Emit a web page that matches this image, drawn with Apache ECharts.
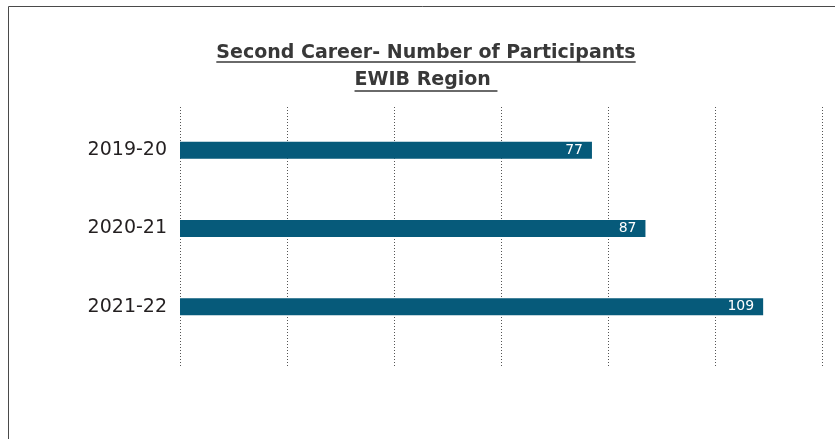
<!DOCTYPE html>
<html>
<head>
<meta charset="utf-8">
<script src="https://cdn.jsdelivr.net/npm/echarts@6/dist/echarts.min.js"></script>
<style>
html,body{margin:0;padding:0;background:#fff;}
#chart{width:835px;height:439px;}
</style>
</head>
<body>
<div id="chart"></div>
<script>
const categories = ['2019-20', '2020-21', '2021-22'];
const participants = [77, 87, 109];
const titleLines = ['Second Career- Number of Participants', 'EWIB Region '];
const axisMax = 120;
const axisInterval = 20;

const FONT = '"DejaVu Sans", sans-serif';
const titleSize = 19;
const titleWeight = 'bold';
function measure(text, size, weight) {
  const c = document.createElement('canvas').getContext('2d');
  c.font = weight + ' ' + size + 'px ' + FONT;
  return c.measureText(text).width;
}
const titleCx = 426;
const titleY = [53, 80];
const underlineY = [62, 91];
const graphics = [
  { type: 'rect', left: 6, top: 4, silent: true,
    shape: { width: 900, height: 500 },
    style: { fill: 'none', stroke: '#4a4a4a', lineWidth: 1 } }
];
titleLines.forEach((t, i) => {
  const w = measure(t, titleSize, titleWeight);
  graphics.push({ type: 'text', x: titleCx, y: titleY[i], silent: true,
    style: { text: t, font: titleWeight + ' ' + titleSize + 'px ' + FONT, fill: '#383838',
      textAlign: 'center', textVerticalAlign: 'middle' } });
  graphics.push({ type: 'line', silent: true,
    shape: { x1: titleCx - w / 2, y1: underlineY[i], x2: titleCx + w / 2, y2: underlineY[i] },
    style: { stroke: '#383838', lineWidth: 1.5 } });
});

const chart = echarts.init(document.getElementById('chart'), null, { renderer: 'canvas' });
const gridLeft = 180, gridWidth = 642;
chart.setOption({
  animation: false,
  backgroundColor: '#ffffff',
  graphic: graphics,
  grid: [
    { left: gridLeft, width: gridWidth, top: 107, height: 260 },
    { left: gridLeft, width: gridWidth, top: 111, height: 235 }
  ],
  xAxis: [
    { gridIndex: 0, type: 'value', min: 0, max: axisMax, interval: axisInterval,
      axisLine: { show: false }, axisTick: { show: false }, axisLabel: { show: false },
      splitLine: { show: true, lineStyle: { color: '#555', type: [1, 2], width: 1 } } },
    { gridIndex: 1, type: 'value', min: 0, max: axisMax, interval: axisInterval,
      axisLine: { show: false }, axisTick: { show: false }, axisLabel: { show: false },
      splitLine: { show: false } }
  ],
  yAxis: [
    { gridIndex: 0, type: 'value', show: false, min: 0, max: 1, splitLine: { show: false } },
    { gridIndex: 1, type: 'category', data: categories, inverse: true,
      axisLine: { show: false }, axisTick: { show: false }, splitLine: { show: false },
      axisLabel: { margin: 13, color: '#231f20', fontSize: 19, fontFamily: FONT } }
  ],
  series: [{
    type: 'bar',
    xAxisIndex: 1, yAxisIndex: 1,
    data: participants,
    barWidth: 17,
    itemStyle: { color: '#065a7a' },
    label: { show: true, position: 'insideRight', distance: 9, color: '#ffffff',
      fontSize: 14, fontFamily: FONT }
  }]
});
</script>
</body>
</html>
